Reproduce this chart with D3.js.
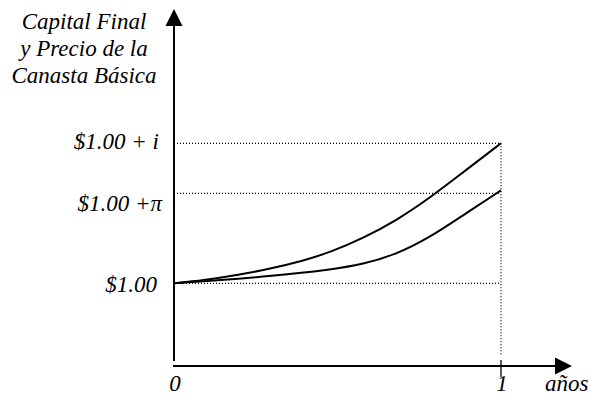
<!DOCTYPE html>
<html><head><meta charset="utf-8">
<script src="https://cdn.jsdelivr.net/npm/d3@7"></script>
<style>html,body{margin:0;padding:0;background:#fff;}svg{display:block;}</style>
</head><body>
<svg id="c" width="601" height="403"></svg>
<script>
// Data (years, relative value)
const capitalT = [0, 0.089, 0.192, 0.294, 0.395, 0.477, 0.578, 0.681, 0.783, 0.884, 1];
const capitalV = [1.000, 1.003, 1.008, 1.0145, 1.0225, 1.031, 1.045, 1.063, 1.0855, 1.111, 1.140];
const canastaT = [0, 0.141, 0.294, 0.477, 0.578, 0.681, 0.783, 0.884, 1];
const canastaV = [1.000, 1.003, 1.0072, 1.0135, 1.019, 1.029, 1.046, 1.068, 1.093];
const levelValues = [1.140, 1.090, 1.000];
const levelLabels = ["$1.00 + i", "$1.00 +\u03C0", "$1.00"];
const xTickValues = [0, 1];
const xTickLabels = ["0", "1"];
const titleLines = ["Capital Final", "y Precio de la", "Canasta B\u00E1sica"];
const xAxisLabel = "a\u00F1os";

const svg = d3.select("#c");
const font = "Times New Roman";
const x = d3.scaleLinear().domain([0, 1]).range([174, 501]);
const y = d3.scaleLinear().domain([1.0, 1.14]).range([283.3, 143.3]);
const yAxisPos = 366;

// dotted guides
const dot = {stroke: "#000", "stroke-width": 1.2, "stroke-dasharray": "1,2"};
levelValues.forEach(v => {
  const l = svg.append("line").attr("x1", x(0)).attr("x2", x(1)).attr("y1", y(v)).attr("y2", y(v));
  Object.entries(dot).forEach(([k, val]) => l.attr(k, val));
});
const vl = svg.append("line").attr("x1", x(1)).attr("x2", x(1)).attr("y1", y(1.14)).attr("y2", 356);
Object.entries(dot).forEach(([k, val]) => vl.attr(k, val));

// axes
svg.append("line").attr("x1", 174).attr("x2", 174).attr("y1", 361).attr("y2", 24).attr("stroke", "#000").attr("stroke-width", 2);
svg.append("path").attr("d", "M174,9 L165.5,26 L182.5,26 Z").attr("fill", "#000");
svg.append("line").attr("x1", 173).attr("x2", 558).attr("y1", yAxisPos).attr("y2", yAxisPos).attr("stroke", "#000").attr("stroke-width", 2);
svg.append("path").attr("d", `M572,${yAxisPos} L555,${yAxisPos-8.5} L555,${yAxisPos+8.5} Z`).attr("fill", "#000");
// tick at 1
svg.append("line").attr("x1", x(1)).attr("x2", x(1)).attr("y1", 360).attr("y2", 377).attr("stroke", "#000").attr("stroke-width", 1.3);

// curves
const line = d3.line().x(d => x(d[0])).y(d => y(d[1])).curve(d3.curveBasis);
svg.append("path").attr("d", line(capitalT.map((t, i) => [t, capitalV[i]])))
  .attr("fill", "none").attr("stroke", "#000").attr("stroke-width", 2);
svg.append("path").attr("d", line(canastaT.map((t, i) => [t, canastaV[i]])))
  .attr("fill", "none").attr("stroke", "#000").attr("stroke-width", 2);

// texts
const txt = (s, tx, ty, anchor) => svg.append("text").text(s).attr("x", tx).attr("y", ty)
  .attr("text-anchor", anchor).attr("font-family", font).attr("font-style", "italic").attr("font-size", 23).attr("fill", "#000");
const labelY = [149, 211, 292];
const labelX = [159, 162, 157];
levelLabels.forEach((s, i) => txt(s, labelX[i], labelY[i], "end"));
titleLines.forEach((s, i) => txt(s, 84, 29 + i * 27, "middle"));
xTickValues.forEach((v, i) => txt(xTickLabels[i], x(v) + 1, 391, "middle"));
txt(xAxisLabel, 545, 391, "start");
</script>
</body></html>
